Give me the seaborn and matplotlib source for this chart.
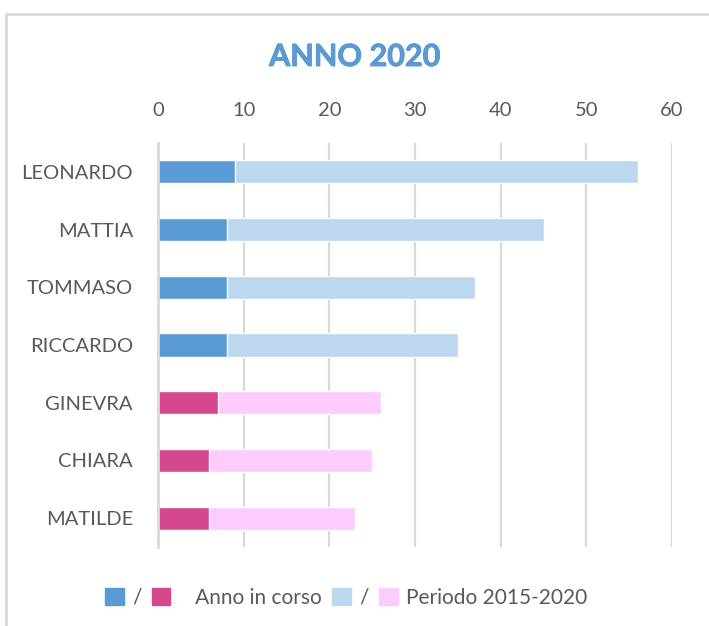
import matplotlib
matplotlib.use("Agg")
import matplotlib.pyplot as plt
import matplotlib.patheffects as pe
import seaborn as sns
import pandas as pd
from matplotlib.patches import Rectangle, Patch

# dati
nomi = ["LEONARDO", "MATTIA", "TOMMASO", "RICCARDO", "GINEVRA", "CHIARA", "MATILDE"]
anno_in_corso = [9, 8, 8, 8, 7, 6, 6]
periodo_2015_2020 = [56, 45, 37, 35, 26, 25, 23]
genere = ["M", "M", "M", "M", "F", "F", "F"]

colori_scuri = {"M": "#5B9BD5", "F": "#D6488E"}
colori_chiari = {"M": "#BDD7EE", "F": "#FDCCFD"}
grigio = "#D9D9D9"
testo = "#595959"

df = pd.DataFrame({"nome": nomi, "anno": anno_in_corso,
                   "periodo": periodo_2015_2020, "genere": genere})

sns.set_style("white")
plt.rcParams["font.family"] = ["Lato", "DejaVu Sans"]

fig = plt.figure(figsize=(7.09, 6.26), dpi=100)
ax = fig.add_axes([158 / 709, 1 - 547 / 626, 514 / 709, 404 / 626])

# barre: periodo (chiaro) sotto, anno in corso (scuro) sopra
sns.barplot(data=df, x="periodo", y="nome", hue="genere", palette=colori_chiari,
            width=0.4, dodge=False, legend=False, ax=ax, saturation=1)
sns.barplot(data=df, x="anno", y="nome", hue="genere", palette=colori_scuri,
            width=0.4, dodge=False, legend=False, ax=ax, saturation=1)

ax.set_xlim(0, 60)
ax.set_ylim(6.5, -0.5)
ax.set_xticks(range(0, 61, 10))
ax.xaxis.tick_top()
ax.tick_params(axis="x", length=0, pad=17, labelsize=14.5, labelcolor=testo)
ax.tick_params(axis="y", length=0, pad=18, labelsize=14.5, labelcolor=testo)
ax.set_xlabel("")
ax.set_ylabel("")
ax.grid(axis="x", color=grigio, linewidth=1.6)
ax.set_axisbelow(True)
for lato in ["top", "right", "bottom"]:
    ax.spines[lato].set_visible(False)
ax.spines["left"].set_color(grigio)
ax.spines["left"].set_linewidth(2)

# titolo
fig.text(0.5, 1 - 57 / 626, "ANNO 2020", ha="center", va="center",
         fontsize=22, fontweight="bold", color="#5B9BD5",
         path_effects=[pe.withStroke(linewidth=0.6, foreground="#4F8CC4")])

# legenda
maniglie = [Patch(color=colori_scuri["M"]), Patch(color=colori_scuri["F"]),
            Patch(color=colori_chiari["M"]), Patch(color=colori_chiari["F"])]
etichette = ["/", "   Anno in corso", "/", "Periodo 2015-2020"]
leg = fig.legend(maniglie, etichette, loc="center", bbox_to_anchor=(346 / 709, 1 - 598 / 626),
                 ncol=4, frameon=False, fontsize=15, handlelength=0.9, handleheight=0.9,
                 handletextpad=0.4, columnspacing=0.5)
for t in leg.get_texts():
    t.set_color(testo)

# bordo del grafico
fig.add_artist(Rectangle((6 / 709, -0.1), 1.2, 1 - 14 / 626 + 0.1, transform=fig.transFigure,
                         fill=False, edgecolor=grigio, linewidth=2))

fig.savefig("out.png", dpi=100)
